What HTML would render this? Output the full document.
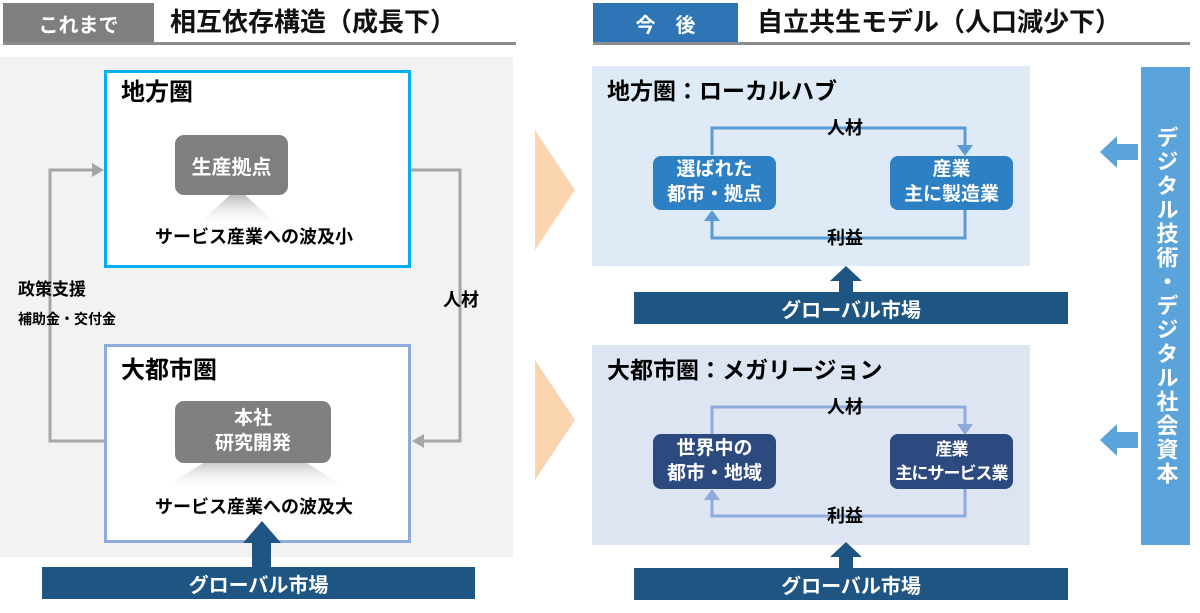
<!DOCTYPE html>
<html><head><meta charset="utf-8"><style>
*{margin:0;padding:0;box-sizing:border-box}
body{width:1200px;height:613px;background:#fff;position:relative;overflow:hidden;font-family:"Liberation Sans","Noto Sans CJK JP",sans-serif}
.a{position:absolute}
.t{position:absolute;white-space:nowrap;line-height:1}
.c{display:flex;align-items:center;justify-content:center;text-align:center;color:#fff;font-weight:bold;white-space:nowrap}
</style></head><body>
<!-- headers -->
<div class="a c" style="left:3px;top:3px;width:151px;height:40px;background:#7f7f7f;font-size:20px;font-weight:bold">これまで</div>
<div class="t" style="left:170px;top:9px;font-size:26px;font-weight:bold;color:#111">相互依存構造（成長下）</div>
<div class="a" style="left:3px;top:42px;width:513px;height:3px;background:#8c8c8c"></div>
<div class="a c" style="left:593px;top:3px;width:145px;height:40px;background:#2e75b6;font-size:20px">今　後</div>
<div class="t" style="left:757px;top:9px;font-size:26px;font-weight:bold;color:#111">自立共生モデル（人口減少下）</div>
<div class="a" style="left:593px;top:42px;width:597px;height:3px;background:#8c8c8c"></div>

<!-- left panel -->
<div class="a" style="left:0;top:57px;width:513px;height:500px;background:#f2f2f2"></div>
<svg class="a" style="left:0;top:0" width="1200" height="613">
<polyline points="104,441 50,441 50,170 96,170" fill="none" stroke="#a6a6a6" stroke-width="3"/>
<polygon points="92,163 104,170 92,177" fill="#a6a6a6"/>
<polyline points="411,170 460,170 460,441 420,441" fill="none" stroke="#a6a6a6" stroke-width="3"/>
<polygon points="424,434 412,441 424,448" fill="#a6a6a6"/>
<polygon points="535,130 575,190 535,250" fill="#fbd5b0"/>
<polygon points="535,360 575,420 535,480" fill="#fbd5b0"/>
</svg>
<div class="a" style="left:104px;top:70px;width:307px;height:198px;border:3px solid #00b0f0;background:#fff"></div>
<div class="t" style="left:121px;top:81px;font-size:24px;font-weight:bold">地方圏</div>
<svg class="a" style="left:170px;top:195px" width="130" height="35"><defs><linearGradient id="g" x1="0" y1="0" x2="0" y2="1"><stop offset="0" stop-color="#bbb"/><stop offset="1" stop-color="#fff" stop-opacity="0"/></linearGradient></defs><polygon points="60,0 75,0 110,32 25,32" fill="url(#g)"/></svg>
<div class="a c" style="left:175px;top:135px;width:113px;height:60px;background:#7f7f7f;border-radius:9px;font-size:20px">生産拠点</div>
<div class="t" style="left:155px;top:228px;font-size:18px;font-weight:bold">サービス産業への波及小</div>
<div class="t" style="left:18px;top:281px;font-size:17px;font-weight:bold">政策支援</div>
<div class="t" style="left:18px;top:312px;font-size:14px;font-weight:bold">補助金・交付金</div>
<div class="t" style="left:443px;top:291px;font-size:18px;font-weight:bold">人材</div>

<div class="a" style="left:104px;top:344px;width:307px;height:199px;border:3px solid #8faadc;background:#fff"></div>
<div class="t" style="left:121px;top:359px;font-size:24px;font-weight:bold">大都市圏</div>
<svg class="a" style="left:150px;top:462px" width="210" height="40"><defs><linearGradient id="g2" x1="0" y1="0" x2="0" y2="1"><stop offset="0" stop-color="#c8c8c8"/><stop offset="1" stop-color="#fff" stop-opacity="0"/></linearGradient></defs><polygon points="55,0 155,0 200,28 10,28" fill="url(#g2)"/></svg>
<div class="a c" style="left:175px;top:401px;width:156px;height:62px;background:#7f7f7f;border-radius:9px;font-size:19px;line-height:1.3">本社<br>研究開発</div>
<div class="t" style="left:155px;top:498px;font-size:18px;font-weight:bold">サービス産業への波及大</div>
<svg class="a" style="left:0;top:0" width="1200" height="613">
<polygon points="243,543 262,521 281,543 271,543 271,567 252,567 252,543" fill="#1f5582"/>
</svg>
<div class="a c" style="left:42px;top:567px;width:433px;height:32px;background:#1f5582;font-size:20px">グローバル市場</div>

<!-- right panels -->
<div class="a" style="left:592px;top:66px;width:438px;height:200px;background:#deebf7"></div>
<div class="t" style="left:607px;top:80px;font-size:23px;font-weight:bold">地方圏：ローカルハブ</div>
<div class="a" style="left:592px;top:345px;width:438px;height:200px;background:#dde4f2"></div>
<div class="t" style="left:607px;top:359px;font-size:23px;font-weight:bold">大都市圏：メガリージョン</div>
<svg class="a" style="left:0;top:0" width="1200" height="613">
<polyline points="712,155 712,128 965,128 965,148" fill="none" stroke="#5b9bd5" stroke-width="3"/>
<polygon points="957,145 965,156 973,145" fill="#5b9bd5"/>
<polyline points="965,210 965,238 712,238 712,218" fill="none" stroke="#5b9bd5" stroke-width="3"/>
<polygon points="704,221 712,210 720,221" fill="#5b9bd5"/>
<polyline points="712,434 712,407 965,407 965,427" fill="none" stroke="#8faadc" stroke-width="3"/>
<polygon points="957,424 965,435 973,424" fill="#8faadc"/>
<polyline points="965,489 965,516 712,516 712,497" fill="none" stroke="#8faadc" stroke-width="3"/>
<polygon points="704,500 712,489 720,500" fill="#8faadc"/>
<polygon points="830,281 846,266 862,281 853,281 853,292 839,292 839,281" fill="#1f5582"/>
<polygon points="830,557 846,542 862,557 853,557 853,568 839,568 839,557" fill="#1f5582"/>
<polygon points="1100,152 1117,136 1117,144 1138,144 1138,160 1117,160 1117,168" fill="#5ba3db"/>
<polygon points="1100,440 1117,424 1117,432 1138,432 1138,448 1117,448 1117,456" fill="#5ba3db"/>
</svg>
<div class="t" style="left:827px;top:119px;font-size:18px;font-weight:bold">人材</div>
<div class="t" style="left:827px;top:229px;font-size:18px;font-weight:bold">利益</div>
<div class="t" style="left:827px;top:398px;font-size:18px;font-weight:bold">人材</div>
<div class="t" style="left:827px;top:507px;font-size:18px;font-weight:bold">利益</div>
<div class="a c" style="left:653px;top:156px;width:123px;height:54px;background:#2e80c4;border-radius:8px;font-size:19px;line-height:1.3">選ばれた<br>都市・拠点</div>
<div class="a c" style="left:890px;top:156px;width:123px;height:54px;background:#2e80c4;border-radius:8px;font-size:19px;line-height:1.3">産業<br>主に製造業</div>
<div class="a c" style="left:653px;top:434px;width:123px;height:55px;background:#2c4a80;border-radius:8px;font-size:19px;line-height:1.3">世界中の<br>都市・地域</div>
<div class="a c" style="left:890px;top:434px;width:123px;height:55px;background:#2c4a80;border-radius:8px;font-size:17px;line-height:1.4;letter-spacing:-1px">産業<br>主にサービス業</div>
<div class="a c" style="left:634px;top:292px;width:434px;height:32px;background:#1f5582;font-size:20px">グローバル市場</div>
<div class="a c" style="left:634px;top:568px;width:434px;height:32px;background:#1f5582;font-size:20px">グローバル市場</div>
<div class="a c" style="left:1141px;top:67px;width:49px;height:478px;background:#5ba3db;font-size:22px;writing-mode:vertical-rl;letter-spacing:2px">デジタル技術・デジタル社会資本</div>
</body></html>
